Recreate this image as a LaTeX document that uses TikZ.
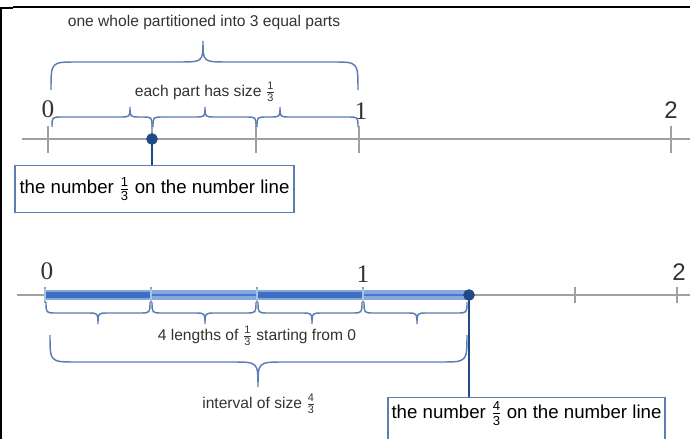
\documentclass[tikz,border=0pt]{standalone}
\usepackage{amsmath}
\usepackage{fontspec}
\setmainfont{Liberation Sans}
\newfontfamily\numserif{Liberation Serif}
\definecolor{brcol}{HTML}{5B7DB1}
\definecolor{navy}{HTML}{1F4A87}
\definecolor{axisg}{HTML}{A0A0A0}
\definecolor{txt}{HTML}{333333}
\definecolor{barL}{HTML}{86A9DE}
\definecolor{barD}{HTML}{3E6FC2}
\newcommand\cbr[7]{\draw[brace line] (#1,#4) .. controls (#1,#5) .. ({#1+#7},#5) -- ({#3-#7},#5) .. controls (#3,#5) .. (#3,#6) .. controls (#3,#5) .. ({#3+#7},#5) -- ({#2-#7},#5) .. controls (#2,#5) .. (#2,#4);}
\newcommand\fr[2]{$\frac{\text{#1}}{\text{#2}}$}
\begin{document}
\begin{tikzpicture}[x=0.75pt,y=-0.75pt,
  brace line/.style={draw=brcol, line width=1.1pt},
  axisline/.style={draw=axisg, line width=1.1pt},
  tickline/.style={draw=axisg, line width=1.1pt},
  dot/.style={circle, fill=navy, inner sep=0pt, minimum size=8.5pt},
  stem/.style={draw=navy, line width=1.8pt},
  lbl/.style={text=txt, font=\fontsize{11.7}{13}\selectfont, inner sep=0pt},
  num/.style={text=txt, font=\numserif\fontsize{19}{21}\selectfont, inner sep=0pt},
  snum/.style={text=txt, font=\fontsize{18}{20}\selectfont, inner sep=0pt},
  box/.style={draw=brcol, line width=1.1pt, fill=white, text=black, font=\fontsize{14}{16}\selectfont, inner xsep=0pt}
]
\useasboundingbox (0,0) rectangle (690,439);
% frame
\draw[black, line width=1.2pt] (13,7) -- (690,7);
\draw[black, line width=2pt] (0,8) -- (13,8);
\draw[black, line width=1.6pt] (1,7) -- (1,439);

% ===== top number line =====
\draw[axisline] (22,139) -- (690,139);
\foreach \x in {48,152,256,359,671} \draw[tickline] (\x,126) -- (\x,153);
\node[num] (t0) at (48,109) {0};
\node[num] (t1) at (361,111) {1};
\node[snum] (t2) at (671,110) {2};
% big brace
\cbr{51}{358}{203}{90}{62}{41}{25}
\node[lbl] (whole) at (204,22) {one whole partitioned into 3 equal parts};
% small braces
\cbr{52}{152}{130}{127}{117}{107}{10}
\cbr{153}{256}{205}{127}{117}{107}{10}
\cbr{257}{358}{280}{127}{117}{107}{10}
\node[lbl] (each) at (205,92) {each part has size \fr{1}{3}};
% dot and box
\node[box, anchor=north, minimum width=209pt, minimum height=35pt, inner ysep=0pt] (b1) at (154.5,165) {the number \fr{1}{3} on the number line};
\node[dot] (d1) at (152,139) {};
\draw[stem] (d1.center) -- (d1.center |- b1.north);
\node[dot] at (152,139) {};

% ===== bottom number line =====
\draw[axisline] (17,295) -- (690,295);
\foreach \x in {45,151,257,363,575,677} \draw[tickline] (\x,287) -- (\x,303);
\draw[barL, line width=8.2pt] (45,295) -- (469,295);
\draw[barD, line width=5.2pt] (45,295) -- (151,295);
\draw[barD, line width=5.2pt] (257,295) -- (363,295);
\draw[barD!85!barL, line width=1.8pt] (151,295) -- (257,295);
\draw[barD!85!barL, line width=1.8pt] (363,295) -- (469,295);
\foreach \x in {45,151,257,363} \draw[draw=barL!70!white, line width=0.8pt] (\x,289) -- (\x,301);
\node[num] (u0) at (47,271) {0};
\node[num] (u1) at (363,274) {1};
\node[snum] (u2) at (679,272) {2};
% small braces
\cbr{46}{150}{98}{302}{313}{324}{10}
\cbr{152}{256}{205}{302}{313}{324}{10}
\cbr{258}{362}{312}{302}{313}{324}{10}
\cbr{364}{467}{417}{302}{313}{324}{10}
\node[lbl] (four) at (257,336) {4 lengths of \fr{1}{3} starting from 0};
% big brace
\cbr{50}{467}{258}{335}{362}{387}{26}
\node[lbl] (intv) at (259,404) {interval of size \fr{4}{3}};
% dot and box
\node[box, anchor=north, minimum width=208pt, inner ysep=5pt, text height=10.5pt, text depth=18pt] (b2) at (526.5,397) {the number \fr{4}{3} on the number line};
\node[dot] (d2) at (469,295) {};
\draw[stem] (d2.center) -- (d2.center |- b2.north);
\node[dot] at (469,295) {};
\end{tikzpicture}
\end{document}
